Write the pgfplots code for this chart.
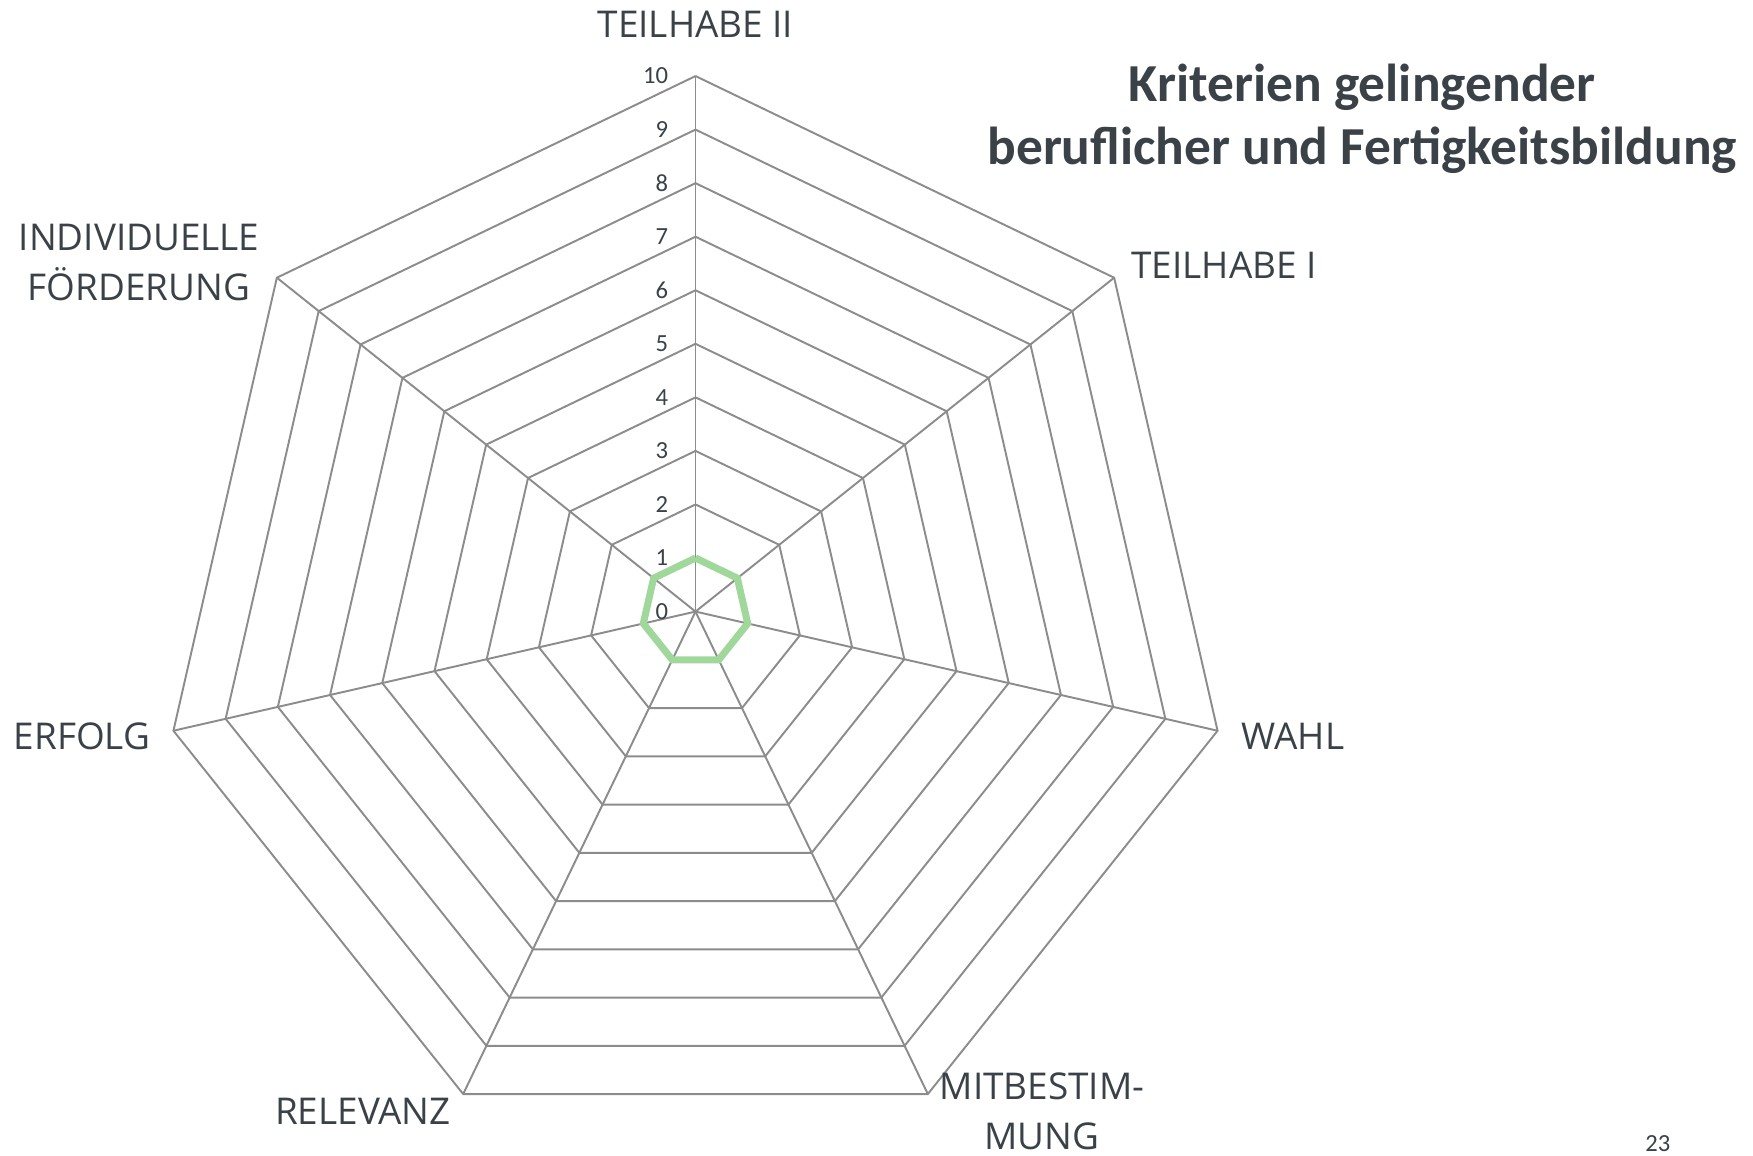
\documentclass[border=0pt]{standalone}
\usepackage{pgfplots}
\pgfplotsset{compat=1.18}
\usepackage{fontspec}
\setmainfont{Carlito}
\newfontfamily\labelfont{Open Sans}
\definecolor{txt}{HTML}{3A4248}
\definecolor{gridc}{HTML}{8C8C8C}
\definecolor{serie}{HTML}{A0D79B}
\begin{document}
\begin{tikzpicture}
\useasboundingbox (0,0) rectangle (17.53cm,11.56cm);
\begin{axis}[
  at={(6.955cm,5.444cm)}, anchor=origin,
  x=0.5355cm, y=0.5355cm,
  xmin=-12.99, xmax=19.75, ymin=-10.17, ymax=11.42,
  hide axis, clip=false,
]
% grid heptagons
\pgfplotsinvokeforeach{1,...,10}{
  \addplot[gridc, line width=0.55pt, data cs=polar] coordinates {
    (90,#1) (38.5714,#1) (-12.8571,#1) (-64.2857,#1) (-115.7143,#1) (-167.1429,#1) (141.4286,#1) (90,#1)};
}
% spokes
\pgfplotsinvokeforeach{90,38.5714,-12.8571,-64.2857,-115.7143,-167.1429,141.4286}{
  \addplot[gridc, line width=0.55pt, data cs=polar] coordinates {(#1,0) (#1,10)};
}
% data series
\addplot[serie, line width=2pt, line join=miter, data cs=polar] coordinates {
  (90,1) (38.5714,1) (-12.8571,1) (-64.2857,1) (-115.7143,1) (-167.1429,1) (141.4286,1) (90,1)};
% radial tick labels
\pgfplotsinvokeforeach{0,...,10}{
  \node[anchor=east, text=txt, font=\fontsize{7}{8}\selectfont, inner sep=0pt] at (axis cs:-0.5,#1) {#1};
}
% category labels
\begin{scope}[every node/.append style={text=txt, font=\labelfont\fontsize{10.5}{14.2}\selectfont, inner sep=0pt, align=center}]
\node at (axis cs:0,10.96) {TEILHABE II};
\node[anchor=west] at (axis cs:8.13,6.47) {TEILHABE I};
\node[anchor=west] at (axis cs:10.19,-2.32) {WAHL};
\node at (axis cs:6.47,-9.34) {MITBESTIM-\\MUNG};
\node at (axis cs:-6.21,-9.34) {RELEVANZ};
\node[anchor=east] at (axis cs:-10.17,-2.32) {ERFOLG};
\node at (axis cs:-10.39,6.51) {INDIVIDUELLE\\FÖRDERUNG};
\end{scope}
\node[text=txt, font=\bfseries\fontsize{15.2}{18.1}\selectfont, align=center, inner sep=0pt] at (axis cs:12.45,9.20)
  {Kriterien gelingender\\beruflicher und Fertigkeitsbildung};
\node[text=txt, font=\fontsize{7}{8}\selectfont, inner sep=0pt] at (axis cs:17.97,-9.93) {23};
\end{axis}
\end{tikzpicture}
\end{document}
